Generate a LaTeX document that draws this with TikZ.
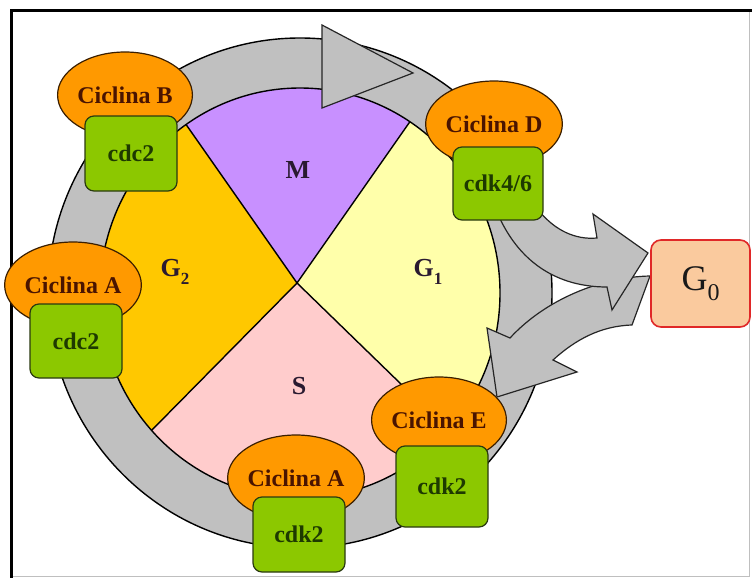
\documentclass[tikz,border=0pt]{standalone}
\usepackage{fontspec}
\setmainfont{Liberation Serif}
\usetikzlibrary{shapes.geometric}
\definecolor{ringgray}{HTML}{C0C0C0}
\definecolor{mpurple}{HTML}{C890FF}
\definecolor{gtwo}{HTML}{FFC800}
\definecolor{gone}{HTML}{FFFFAA}
\definecolor{spink}{HTML}{FFCCCC}
\definecolor{cycorange}{HTML}{FF9900}
\definecolor{cycline}{HTML}{3A1E00}
\definecolor{cyctext}{HTML}{4A1400}
\definecolor{cdkgreen}{HTML}{8CC800}
\definecolor{cdkline}{HTML}{2A3A10}
\definecolor{cdktext}{HTML}{1E3A00}
\definecolor{phasetext}{HTML}{2A1A30}
\definecolor{gzerofill}{HTML}{FACA9E}
\definecolor{gzeroline}{HTML}{E02828}
\newcommand{\lowsub}[1]{\raisebox{-0.28em}{\fontsize{17}{17}\selectfont #1}}
\begin{document}
\begin{tikzpicture}[x=1pt,y=-1pt,
  cyc/.style={ellipse, draw=cycline, fill=cycorange, line width=1.2pt, inner sep=0pt,
    minimum width=118pt, minimum height=86pt, text=cyctext,
    font=\fontsize{24}{24}\bfseries\selectfont},
  cdk/.style={rectangle, rounded corners=9pt, draw=cdkline, fill=cdkgreen, line width=1.2pt,
    minimum width=92pt, minimum height=75pt, inner sep=0pt, text=cdktext,
    font=\fontsize{24}{24}\bfseries\selectfont},
  phase/.style={inner sep=0pt, text=phasetext, font=\fontsize{26}{26}\bfseries\selectfont},
  outl/.style={draw=black, line width=1.4pt},
  bigarrow/.style={fill=ringgray, draw=black!85, line width=1.2pt, line join=miter}
]
\useasboundingbox (0,0) rectangle (752,578);
\fill[white] (0,0) rectangle (752,578);
% frame
\draw[black!25, line width=1pt] (749,11) -- (749,576) -- (11,576);
\draw[black, line width=3pt] (11,578) -- (11,11) -- (752,11);

% ring
\coordinate (rc) at (300,293);
\fill[ringgray] (rc) ellipse [x radius=252, y radius=255];
\draw[outl] (rc) ellipse [x radius=252, y radius=255];

% pie sectors
\coordinate (pc) at (297,283);
\coordinate (ul) at (-39,-197);
\coordinate (ur) at (633,-197);
\coordinate (ll) at (-144,730);
\coordinate (lr) at (615,592);
\begin{scope}
  \clip (rc) ellipse [x radius=200, y radius=205];
  \fill[mpurple] (pc) -- (ul) -- (ur) -- cycle;
  \fill[gone] (pc) -- (ur) -- (1000,-197) -- (1000,800) -- (lr) -- cycle;
  \fill[spink] (pc) -- (lr) -- (615,900) -- (-144,900) -- (ll) -- cycle;
  \fill[gtwo] (pc) -- (ll) -- (-500,730) -- (-500,-197) -- (ul) -- cycle;
  \draw[outl] (ul) -- (pc) -- (ur);
  \draw[outl] (ll) -- (pc) -- (lr);
\end{scope}
\draw[outl] (rc) ellipse [x radius=200, y radius=205];

% ring arrowhead
\coordinate (hb1) at (322,25);
\coordinate (ht) at (413,73);
\coordinate (hb2) at (322,108);
\draw[bigarrow] (hb1) -- (ht) -- (hb2) -- cycle;

% arrow G0 -> G1 (drawn first, below)
\draw[bigarrow] (650,276) .. controls (600,277) and (545,300) .. (510,338)
  -- (487,328) -- (497,397) -- (577,372) -- (553,360)
  .. controls (575,340) and (600,326) .. (632,325) -- cycle;
% arrow G1 -> G0
\draw[bigarrow] (497,212) .. controls (515,255) and (550,287) .. (607,287)
  -- (612,310) -- (648,253) -- (593,214) -- (597,238)
  .. controls (575,240) and (555,230) .. (540,212) -- cycle;

% phase labels
\node[phase] (M) at (298,170) {M};
\node[phase] (G2) at (175,272) {G\lowsub{2}};
\node[phase] (G1) at (428,272) {G\lowsub{1}};
\node[phase] (S) at (299,386) {S};

% complexes
\node[cyc] (cycB) at (125,95) {Ciclina B};
\node[cdk] (cdkB) at (131,153.5) {cdc2};
\node[cyc] (cycD) at (494,124) {Ciclina D};
\node[cdk, minimum width=90pt, minimum height=73pt] (cdkD) at (498,183.5) {cdk4/6};
\node[cyc, minimum width=122pt] (cycA1) at (73,285) {Ciclina A};
\node[cdk, minimum height=74pt] (cdkA1) at (76,341) {cdc2};
\node[cyc] (cycE) at (439,420) {Ciclina E};
\node[cdk, minimum height=81pt] (cdkE) at (442,486.5) {cdk2};
\node[cyc] (cycA2) at (296,478) {Ciclina A};
\node[cdk] (cdkA2) at (299,534.5) {cdk2};

% G0
\node[rectangle, rounded corners=10pt, draw=gzeroline, fill=gzerofill, line width=1.6pt,
  minimum width=99pt, minimum height=87pt, inner sep=0pt,
  font=\fontsize{36}{36}\selectfont, text=black!90] (G0) at (700.5,283.5) {G\raisebox{-0.28em}{\fontsize{24}{24}\selectfont 0}};
\end{tikzpicture}
\end{document}
